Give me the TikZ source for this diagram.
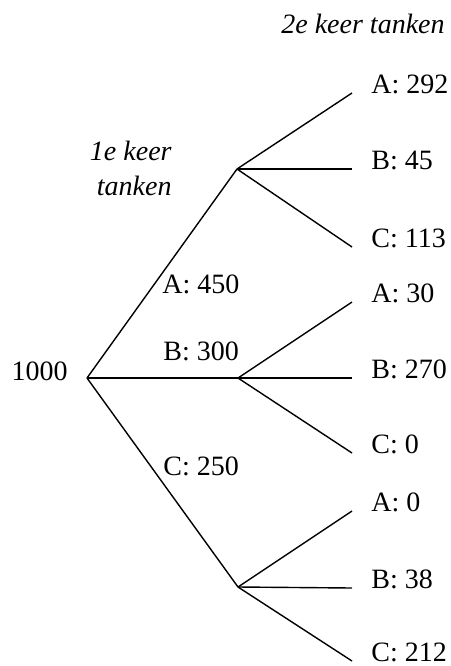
\documentclass[tikz,border=0pt]{standalone}
\usepackage{fontspec}
\setmainfont{Liberation Serif}[ItalicFont={Liberation Serif Italic}]
\usetikzlibrary{positioning}

\begin{document}
\begin{tikzpicture}[x=0.5pt,y=-0.5pt,
  tally/.style={font=\fontsize{14}{17.5}\selectfont,inner sep=0pt},
  leaf/.style={tally,anchor=base west,inner xsep=9.5pt},
  head/.style={tally,font=\fontsize{14}{17.5}\selectfont\itshape},
  branch/.style={line width=0.7pt},
]
  \useasboundingbox (0,0) rectangle (451,666);
  % branch points
  \coordinate (r) at (87,378);
  \coordinate (pa) at (237,169);
  \coordinate (pb) at (238,378);
  \coordinate (pc) at (238,587);
  \node[tally,anchor=base east,inner xsep=9.5pt] (root) at (87,380) {1000};
  % headers
  \node[head,anchor=base east] (second) at (445,33) {2e keer tanken};
  \node[head,align=right,anchor=east] (first) at (172,168) {1e keer\\tanken};
  % first stop
  \draw[branch] (r) -- (pa);
  \draw[branch] (r) -- (pb);
  \draw[branch] (r) -- (pc);
  \node[tally,anchor=base west] (fa) at (162,293) {A: 450};
  \node[tally,anchor=base west] (fb) at (163,360) {B: 300};
  \node[tally,anchor=base west] (fc) at (163,475) {C: 250};
  % second stop
  \node[leaf] (aa) at (352,93) {A: 292};
  \node[leaf] (ab) at (352,169) {B: 45};
  \node[leaf] (ac) at (352,247) {C: 113};
  \node[leaf] (ba) at (352,302) {A: 30};
  \node[leaf] (bb) at (352,378) {B: 270};
  \node[leaf] (bc) at (352,453) {C: 0};
  \node[leaf] (ca) at (352,511) {A: 0};
  \node[leaf] (cb) at (352,588) {B: 38};
  \node[leaf] (cc) at (352,661) {C: 212};
  \draw[branch] (pa) -- (aa.base west);
  \draw[branch] (pa) -- (ab.base west);
  \draw[branch] (pa) -- (ac.base west);
  \draw[branch] (pb) -- (ba.base west);
  \draw[branch] (pb) -- (bb.base west);
  \draw[branch] (pb) -- (bc.base west);
  \draw[branch] (pc) -- (ca.base west);
  \draw[branch] (pc) -- (cb.base west);
  \draw[branch] (pc) -- (cc.base west);
\end{tikzpicture}
\end{document}
